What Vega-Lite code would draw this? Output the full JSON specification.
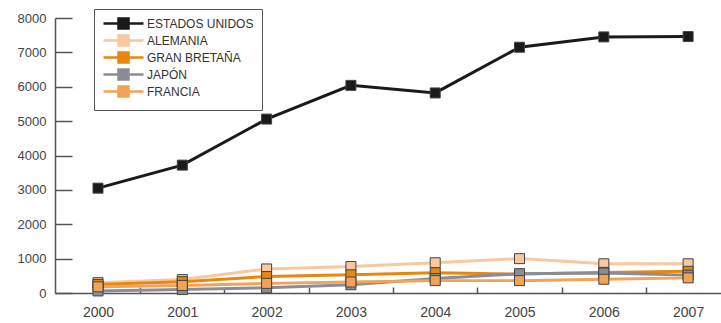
{
  "$schema": "https://vega.github.io/schema/vega-lite/v6.json",
  "width": 666,
  "height": 275,
  "autosize": "none",
  "padding": {"left": 55, "top": 18, "right": 0, "bottom": 30},
  "background": "white",
  "config": {"view": {"stroke": null}, "font": "Liberation Sans"},
  "data": {"values": [
    {"year": 2000, "pais": "ESTADOS UNIDOS", "v": 3050},
    {"year": 2001, "pais": "ESTADOS UNIDOS", "v": 3720},
    {"year": 2002, "pais": "ESTADOS UNIDOS", "v": 5060},
    {"year": 2003, "pais": "ESTADOS UNIDOS", "v": 6040},
    {"year": 2004, "pais": "ESTADOS UNIDOS", "v": 5820},
    {"year": 2005, "pais": "ESTADOS UNIDOS", "v": 7150},
    {"year": 2006, "pais": "ESTADOS UNIDOS", "v": 7450},
    {"year": 2007, "pais": "ESTADOS UNIDOS", "v": 7460},
    {"year": 2000, "pais": "ALEMANIA", "v": 300},
    {"year": 2001, "pais": "ALEMANIA", "v": 390},
    {"year": 2002, "pais": "ALEMANIA", "v": 700},
    {"year": 2003, "pais": "ALEMANIA", "v": 770},
    {"year": 2004, "pais": "ALEMANIA", "v": 880},
    {"year": 2005, "pais": "ALEMANIA", "v": 1000},
    {"year": 2006, "pais": "ALEMANIA", "v": 850},
    {"year": 2007, "pais": "ALEMANIA", "v": 850},
    {"year": 2000, "pais": "GRAN BRETAÑA", "v": 250},
    {"year": 2001, "pais": "GRAN BRETAÑA", "v": 330},
    {"year": 2002, "pais": "GRAN BRETAÑA", "v": 480},
    {"year": 2003, "pais": "GRAN BRETAÑA", "v": 530},
    {"year": 2004, "pais": "GRAN BRETAÑA", "v": 590},
    {"year": 2005, "pais": "GRAN BRETAÑA", "v": 550},
    {"year": 2006, "pais": "GRAN BRETAÑA", "v": 600},
    {"year": 2007, "pais": "GRAN BRETAÑA", "v": 630},
    {"year": 2000, "pais": "JAPÓN", "v": 60},
    {"year": 2001, "pais": "JAPÓN", "v": 100},
    {"year": 2002, "pais": "JAPÓN", "v": 150},
    {"year": 2003, "pais": "JAPÓN", "v": 240},
    {"year": 2004, "pais": "JAPÓN", "v": 420},
    {"year": 2005, "pais": "JAPÓN", "v": 560},
    {"year": 2006, "pais": "JAPÓN", "v": 580},
    {"year": 2007, "pais": "JAPÓN", "v": 520},
    {"year": 2000, "pais": "FRANCIA", "v": 180},
    {"year": 2001, "pais": "FRANCIA", "v": 220},
    {"year": 2002, "pais": "FRANCIA", "v": 280},
    {"year": 2003, "pais": "FRANCIA", "v": 320},
    {"year": 2004, "pais": "FRANCIA", "v": 360},
    {"year": 2005, "pais": "FRANCIA", "v": 360},
    {"year": 2006, "pais": "FRANCIA", "v": 400},
    {"year": 2007, "pais": "FRANCIA", "v": 440}
  ]},
  "encoding": {
    "x": {
      "field": "year", "type": "quantitative",
      "scale": {"domain": [1999.49, 2007.39], "nice": false, "zero": false},
      "axis": {
        "title": null,
        "values": [2000, 2000.5, 2001, 2001.5, 2002, 2002.5, 2003, 2003.5, 2004, 2004.5, 2005, 2005.5, 2006, 2006.5, 2007],
        "labelExpr": "datum.value % 1 === 0 ? format(datum.value, 'd') : ''",
        "tickOpacity": {"condition": {"test": "datum.value % 1 !== 0", "value": 1}, "value": 0},
        "tickSize": -6,
        "labelPadding": 18,
        "labelFontSize": 14,
        "labelColor": "#444",
        "domainColor": "#555",
        "tickColor": "#555",
        "domainWidth": 1.5,
        "tickWidth": 1.5,
        "labelFlush": false,
        "labelOverlap": false,
        "grid": false
      }
    },
    "y": {
      "field": "v", "type": "quantitative",
      "scale": {"domain": [0, 8000], "nice": false},
      "axis": {
        "title": null,
        "values": [0, 1000, 2000, 3000, 4000, 5000, 6000, 7000, 8000],
        "format": "d",
        "tickSize": -17,
        "labelPadding": 26,
        "labelFontSize": 13,
        "labelColor": "#444",
        "domainColor": "#555",
        "tickColor": "#555",
        "domainWidth": 1.5,
        "tickWidth": 1.5,
        "grid": false
      }
    },
    "color": {
      "field": "pais", "type": "nominal",
      "scale": {
        "domain": ["ESTADOS UNIDOS", "ALEMANIA", "GRAN BRETAÑA", "JAPÓN", "FRANCIA"],
        "range": ["#1a1a1a", "#f8c8a0", "#e8860f", "#8c8c98", "#f1a356"]
      },
      "legend": {
        "title": null,
        "orient": "none",
        "legendX": 39,
        "legendY": -9,
        "symbolType": "M-4,0H4M-1,-1H1V1H-1Z",
        "symbolSize": 100,
        "symbolOffset": 15,
        "labelOffset": 17,
        "symbolStrokeWidth": 2.5,
        "labelFontSize": 12,
        "labelColor": "#333",
        "rowPadding": -4,
        "strokeColor": "#555",
        "padding": 8,
        "labelLimit": 200
      }
    }
  },
  "layer": [
    {"mark": {"type": "line", "strokeWidth": 3}},
    {"mark": {"type": "point", "shape": "square", "filled": true, "size": 100, "stroke": "#444", "strokeWidth": 1, "opacity": 1}}
  ]
}
